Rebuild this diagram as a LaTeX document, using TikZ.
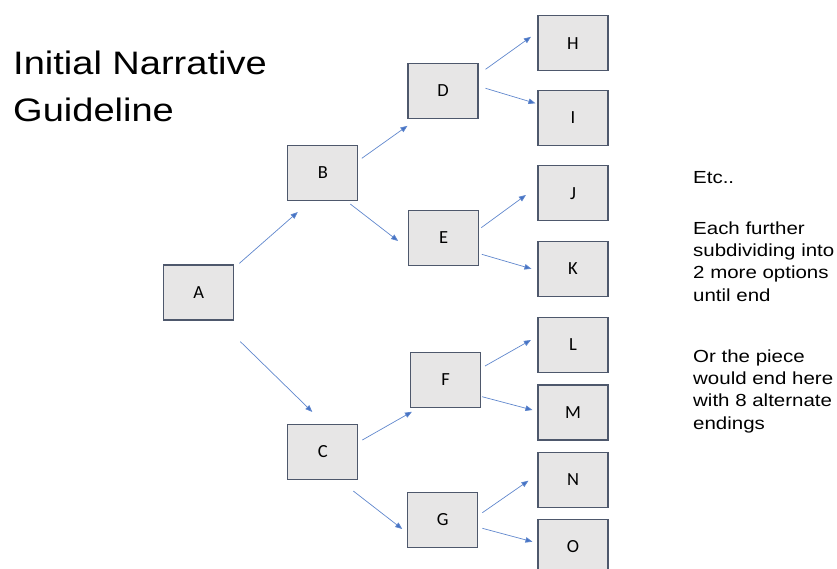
\documentclass[tikz,border=0pt]{standalone}
\usepackage{fontspec}
\usepackage{tikz}
\usetikzlibrary{arrows.meta}
\newfontfamily\notefont[FakeStretch=1.17]{Liberation Sans}
\newfontfamily\boxfont{Carlito}
\definecolor{boxfill}{RGB}{231,230,230}
\definecolor{boxline}{RGB}{78,88,108}
\definecolor{arrowblue}{RGB}{68,114,196}

\begin{document}
\begin{tikzpicture}[x=1pt,y=-1pt,
  choice/.style={draw=boxline, fill=boxfill, line width=1.1pt, minimum width=70pt,
    minimum height=55pt, inner sep=0pt, font=\boxfont\fontsize{18.5}{20}\selectfont},
  link/.style={draw=arrowblue!85, line width=0.7pt, -{Triangle[length=7pt,width=5.5pt,fill=arrowblue]}},
  note/.style={anchor=base west, align=left, inner sep=0pt, font=\notefont\fontsize{17.5}{22.3}\selectfont}]
\useasboundingbox (0,0) rectangle (837,569);

\node[anchor=base west, align=left, inner sep=0pt, font=\notefont\fontsize{32.5}{46.7}\selectfont] (title) at (13,121.7) {Initial Narrative\\Guideline};

\node[choice] (A) at (198.7,292.5) {A};
\node[choice] (B) at (322.8,173) {B};
\node[choice] (C) at (322.8,452) {C};
\node[choice] (D) at (443,90.8) {D};
\node[choice] (E) at (443.7,238) {E};
\node[choice] (F) at (445.5,379.7) {F};
\node[choice] (G) at (442.8,520) {G};
\node[choice] (H) at (573,43.3) {H};
\node[choice] (I) at (573,117.8) {I};
\node[choice] (J) at (573,193.3) {J};
\node[choice] (K) at (573,268.8) {K};
\node[choice] (L) at (573,344.7) {L};
\node[choice] (M) at (573,412.5) {M};
\node[choice] (N) at (573,479.7) {N};
\node[choice] (O) at (573,547) {O};

\draw[link] ([shift={(5,-1)}]A.north east) -- ([shift={(10.5,11)}]B.south west);
\draw[link] ([shift={(6,21)}]A.south east) -- ([shift={(-10.5,-12)}]C.north);

\draw[link] ([shift={(3.5,-14.7)}]B.east) -- ([shift={(0,7)}]D.south west);
\draw[link] ([shift={(-8,3)}]B.south east) -- ([shift={(-10,3)}]E.west);
\draw[link] ([shift={(4,-12)}]C.east) -- ([shift={(2,4)}]F.south west);
\draw[link] ([shift={(-5,11)}]C.south east) -- ([shift={(-5,9)}]G.west);

\draw[link] ([shift={(7,-21.5)}]D.east) -- ([shift={(-6.5,-6.5)}]H.west);
\draw[link] ([shift={(7,-2.5)}]D.east) -- ([shift={(-2,-14.5)}]I.west);
\draw[link] ([shift={(2,-10.3)}]E.east) -- ([shift={(-11.5,1.7)}]J.west);
\draw[link] ([shift={(2.5,16.3)}]E.east) -- ([shift={(-6,0)}]K.west);
\draw[link] ([shift={(4,-13.7)}]F.east) -- ([shift={(-6.5,-4.7)}]L.west);
\draw[link] ([shift={(1,17)}]F.east) -- ([shift={(-5,-2.5)}]M.west);
\draw[link] ([shift={(4,-7.3)}]G.east) -- ([shift={(-9,1)}]N.west);
\draw[link] ([shift={(4,8.3)}]G.east) -- ([shift={(-5,-5.3)}]O.west);

\node[note] (etc) at (693,184) {Etc..};
\node[note] (further) at (693,301) {Each further\\subdividing into\\2 more options\\until end};
\node[note] (endings) at (693,429) {Or the piece\\would end here\\with 8 alternate\\endings};
\end{tikzpicture}
\end{document}
